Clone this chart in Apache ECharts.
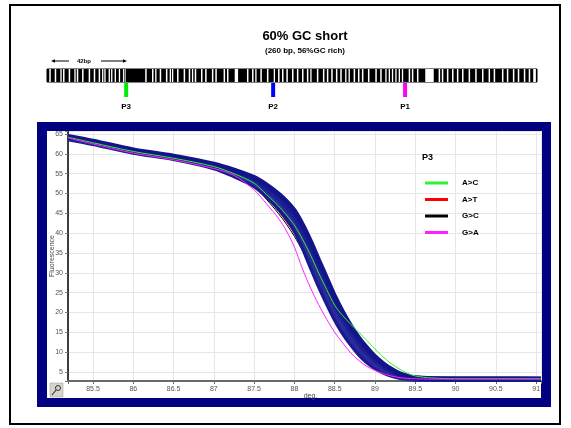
<!DOCTYPE html>
<html><head><meta charset="utf-8">
<script src="https://cdn.jsdelivr.net/npm/echarts@6/dist/echarts.min.js"></script>
<style>html,body{margin:0;padding:0;background:#fff;}#c{width:571px;height:428px;}</style>
</head><body><div id="c"></div>
<script>
// ---- melting-curve data (temperature in deg, fluorescence) ----
const temps = [85.19, 85.5, 86, 86.5, 87, 87.25, 87.5, 87.65, 87.8, 87.9, 88, 88.1, 88.2, 88.3, 88.4, 88.5, 88.6, 88.7, 88.8, 88.9, 89, 89.1, 89.2, 89.3, 89.4, 89.5, 89.7, 90, 90.5, 91.06];
const blueHigh    = [64.4, 63.2, 61.0, 59.4, 57.4, 55.9, 54.0, 52.2, 49.9, 48.0, 45.6, 42.1, 37.9, 33.2, 28.6, 24.0, 20.0, 16.5, 13.5, 11.0, 8.8, 7.1, 5.7, 4.6, 3.95, 3.55, 3.3, 3.25, 3.25, 3.2];
const blueMidHigh = [64.2, 63.0, 60.8, 59.2, 57.1, 55.5, 53.4, 51.3, 48.8, 46.7, 44.1, 40.4, 36.0, 31.2, 26.7, 22.2, 18.4, 15.2, 12.4, 10.0, 8.0, 6.5, 5.3, 4.4, 3.8, 3.5, 3.3, 3.2, 3.2, 3.2];
const blueMidLow  = [64.0, 62.8, 60.6, 59.0, 56.8, 55.0, 52.7, 50.4, 47.6, 45.3, 42.5, 38.5, 33.9, 29.0, 24.5, 20.2, 16.5, 13.4, 10.8, 8.6, 6.9, 5.6, 4.6, 3.9, 3.5, 3.3, 3.2, 3.2, 3.2, 3.2];
const blueLow     = [63.8, 62.6, 60.4, 58.8, 56.5, 54.5, 52.0, 49.5, 46.4, 43.9, 40.9, 36.7, 31.8, 27.0, 22.6, 18.5, 15.0, 12.1, 9.6, 7.6, 6.1, 5.0, 4.2, 3.65, 3.35, 3.2, 3.15, 3.15, 3.15, 3.15];
const curveAC = [64.2, 62.8, 60.6, 58.9, 56.8, 55.0, 52.6, 49.8, 46.9, 44.6, 42.0, 38.5, 34.5, 30.0, 25.8, 21.8, 19.2, 17.0, 15.0, 12.9, 10.8, 8.8, 7.1, 5.8, 4.7, 4.0, 3.5, 3.3, 3.3, 3.3];
const curveAT = [64.1, 62.7, 60.5, 58.8, 56.7, 55.0, 52.2, 49.1, 45.6, 42.9, 39.9, 36.3, 32.5, 28.5, 24.5, 20.6, 17.1, 14.1, 11.4, 9.1, 7.3, 5.9, 4.9, 4.2, 3.7, 3.4, 3.25, 3.2, 3.2, 3.2];
const curveGC = [64.0, 62.6, 60.4, 58.7, 56.6, 54.8, 51.8, 48.6, 45.0, 42.3, 39.2, 35.6, 31.8, 27.8, 23.8, 20.0, 16.6, 13.7, 11.1, 8.9, 7.1, 5.8, 4.8, 4.1, 3.6, 3.35, 3.2, 3.2, 3.2, 3.2];
const curveGA = [64.0, 62.5, 60.2, 58.5, 56.3, 54.6, 50.9, 47.5, 43.8, 40.6, 36.5, 31.0, 26.2, 22.0, 18.3, 15.0, 12.3, 9.8, 7.9, 6.4, 5.4, 4.6, 4.0, 3.6, 3.4, 3.3, 3.2, 3.2, 3.2, 3.2];
const legendNames = ['A>C', 'A>T', 'G>C', 'G>A'];
const legendColors = ['#33ee33', '#ff0000', '#000000', '#ff22ff'];

// ---- sequence map (positions in bp) ----
const seqLength = 260;
const whiteStripes = [[1.2,2.0],[4.1,4.9],[7.1,7.8],[8.5,9.3],[11.5,12.3],[14.5,15.2],[15.8,16.6],[18.6,19.4],[22.1,22.9],[24.8,25.6],[27.4,28.2],[29.2,29.9],[30.4,31.1],[32.7,33.4],[34.0,34.7],[35.9,36.6],[38.1,38.8],[40.3,40.8],[41.2,41.7],
 [52.1,52.9],[55.7,56.5],[57.4,58.1],[59.8,60.6],[63.1,63.9],[65.1,65.8],[66.3,67.0],[69.0,69.8],[72.5,73.3],[75.2,76.0],[76.9,77.6],
 [78.4,79.2],[81.7,82.5],[83.9,84.7],[87.5,88.3],[89.3,90.1],[93.7,94.5],[95.5,96.3],[99.6,101.4],[106.1,106.9],[108.8,109.6],[110.5,111.2],[113.2,114.0],[116.7,117.5],[120.3,121.0],[122.6,123.4],[124.7,125.5],[127.0,127.8],[130.0,130.8],[132.6,133.4],[135.3,136.1],[137.9,138.7],[139.7,140.4],[143.2,144.0],[146.4,147.2],[148.5,149.3],[150.8,151.6],[153.3,154.1],[155.6,156.4],
 [158.2,158.9],[160.0,160.7],[162.7,163.5],[165.0,165.8],[167.1,167.9],[170.3,171.1],[174.2,175.0],[176.8,177.6],[179.5,180.2],[181.3,182.0],[183.0,183.7],[184.8,185.5],[186.6,187.3],[188.3,189.0],[191.9,192.7],[193.6,194.4],[196.3,197.1],[200.7,205.2],[207.8,208.6],[209.5,210.3],[212.2,213.0],[214.9,215.7],[217.5,218.3],[220.2,221.0],[223.7,224.5],[227.2,228.0],[230.8,231.6],[234.3,235.1],[237.0,237.8],
 [241.4,242.2],[244.0,244.8],[247.2,248.0],[249.8,250.6],[253.0,253.8],[255.6,256.4],[258.0,259.4]];
const probeNames = ['P3', 'P2', 'P1'];
const probePos = [42, 120, 190];
const probeColors = ['#00ee00', '#0000ff', '#ff00ff'];

const chart = echarts.init(document.getElementById('c'), null, {renderer: 'canvas'});
const FONT = 'Liberation Sans, Arial, sans-serif';
const pairs = arr => temps.map((t, i) => [t, arr[i]]);
const lineSeries = (name, arr, color, width, z) => ({
  type: 'line', name: name, data: pairs(arr), smooth: 0.3, showSymbol: false, symbol: 'none',
  xAxisIndex: 0, yAxisIndex: 0, lineStyle: {color: color, width: width}, itemStyle: {color: color},
  z: z, silent: true, animation: false
});
const isMult = (v, step) => Math.abs(v / step - Math.round(v / step)) < 1e-6;

function rectItem(fill) {
  return function (params, api) {
    const a = api.coord([api.value(0), 1]);
    const b = api.coord([api.value(1), 0]);
    return {type: 'rect', shape: {x: a[0], y: a[1], width: Math.max(b[0] - a[0], 1), height: b[1] - a[1]},
            style: {fill: fill}};
  };
}

const option = {
  backgroundColor: '#ffffff',
  animation: false,
  title: [
    {text: '60% GC short', left: 300, top: 25, textAlign: 'center',
     textStyle: {fontFamily: FONT, fontSize: 13, fontWeight: 'bold', color: '#000'}},
    {text: '(260 bp, 56%GC rich)', left: 300, top: 42, textAlign: 'center',
     textStyle: {fontFamily: FONT, fontSize: 8, fontWeight: 'bold', color: '#000'}},
    {text: 'P3', left: 417, top: 148,
     textStyle: {fontFamily: FONT, fontSize: 9, fontWeight: 'bold', color: '#000'}}
  ],
  graphic: [
    {type: 'rect', z: -20, shape: {x: 10, y: 5, width: 550, height: 419}, style: {fill: '#fff', stroke: '#000', lineWidth: 2}},
    {type: 'rect', z: -19, shape: {x: 37, y: 122, width: 514, height: 285}, style: {fill: '#000080'}},
    {type: 'rect', z: -18, shape: {x: 47, y: 131, width: 494, height: 267}, style: {fill: '#ffffff'}},
    {type: 'rect', z: 5, shape: {x: 50, y: 383, width: 13, height: 14}, style: {fill: '#d8d4cc', stroke: '#999', lineWidth: 0.5}},
    {type: 'circle', z: 6, shape: {cx: 58, cy: 388, r: 2.5}, style: {fill: 'none', stroke: '#333', lineWidth: 1}},
    {type: 'line', z: 6, shape: {x1: 56, y1: 390, x2: 52, y2: 395}, style: {stroke: '#333', lineWidth: 1.2}},
    // 42bp scale arrow
    {type: 'line', shape: {x1: 53, y1: 61, x2: 69, y2: 61}, style: {stroke: '#000', lineWidth: 1}},
    {type: 'polygon', shape: {points: [[51, 61], [55, 59.3], [55, 62.7]]}, style: {fill: '#000'}},
    {type: 'text', style: {x: 77, y: 61, text: '42bp', fontFamily: FONT, fontSize: 6, fontWeight: 'bold', fill: '#000', verticalAlign: 'middle'}},
    {type: 'line', shape: {x1: 101, y1: 61, x2: 125, y2: 61}, style: {stroke: '#000', lineWidth: 1}},
    {type: 'polygon', shape: {points: [[127, 61], [123, 59.3], [123, 62.7]]}, style: {fill: '#000'}}
  ],
  legend: {
    data: legendNames, orient: 'vertical', left: 420, top: 174, itemWidth: 23, itemHeight: 3, itemGap: 8.5,
    icon: 'rect', textStyle: {fontFamily: FONT, fontSize: 8, fontWeight: 'bold', color: '#000', padding: [0, 0, 0, 9]},
    selectedMode: false
  },
  grid: [
    {left: 68, top: 131, right: 30, bottom: 47, containLabel: false},
    {left: 47, top: 69, width: 490, height: 13},
    {left: 47, top: 83, width: 490, height: 14}
  ],
  xAxis: [
    {type: 'value', gridIndex: 0, min: 85.19, max: 91.06, minInterval: 0.5, maxInterval: 0.5, splitNumber: 12,
     name: 'deg.', nameLocation: 'middle', nameGap: 12, nameMoveOverlap: false,
     nameTextStyle: {fontFamily: FONT, fontSize: 7, color: '#444', padding: [0, 0, 0, 12]},
     axisLine: {show: true, lineStyle: {color: '#6a6a6a', width: 2}},
     axisTick: {show: true, length: 3, lineStyle: {color: '#6a6a6a'}},
     axisLabel: {fontFamily: FONT, fontSize: 7, color: '#555', margin: 5, showMinLabel: true, showMaxLabel: true,
                 formatter: v => isMult(v, 0.5) ? String(v) : ''},
     splitLine: {show: true, lineStyle: {color: '#e6e6e6', width: 1}}},
    {type: 'value', gridIndex: 1, min: 0, max: seqLength, show: false},
    {type: 'value', gridIndex: 2, min: 0, max: seqLength, show: false}
  ],
  yAxis: [
    {type: 'value', gridIndex: 0, min: 2.73, max: 65.76, minInterval: 5, maxInterval: 5, splitNumber: 12,
     name: 'Fluorescence', nameLocation: 'middle', nameGap: 12, nameRotate: 90, nameMoveOverlap: false,
     nameTextStyle: {fontFamily: FONT, fontSize: 7, color: '#444'},
     axisLine: {show: true, lineStyle: {color: '#000', width: 1.5}},
     axisTick: {show: true, length: 3, lineStyle: {color: '#777'}},
     axisLabel: {fontFamily: FONT, fontSize: 7, color: '#555', margin: 5,
                 formatter: v => isMult(v, 5) ? String(v) : ''},
     splitLine: {show: true, lineStyle: {color: '#e6e6e6', width: 1}}},
    {type: 'value', gridIndex: 1, min: 0, max: 1, show: false},
    {type: 'value', gridIndex: 2, min: 0, max: 1, show: false}
  ],
  series: [
    lineSeries('A>T', curveAT, legendColors[1], 1, 3),
    lineSeries('G>C', curveGC, legendColors[2], 1, 3),
    lineSeries('', blueLow, '#1a1a8e', 5, 4),
    lineSeries('', blueMidLow, '#2a2a9c', 5, 4),
    lineSeries('', blueMidHigh, '#1e1e94', 5, 4),
    lineSeries('', blueHigh, '#14148a', 5, 4),
    lineSeries('A>C', curveAC, legendColors[0], 1, 5),
    lineSeries('G>A', curveGA, legendColors[3], 1, 5),
    {type: 'custom', xAxisIndex: 1, yAxisIndex: 1, data: [[0, seqLength]], renderItem: function (params, api) {
        const a = api.coord([api.value(0), 1]);
        const b = api.coord([api.value(1), 0]);
        return {type: 'rect', shape: {x: a[0], y: a[1], width: b[0] - a[0], height: b[1] - a[1]},
                style: {fill: '#000', stroke: '#000', lineWidth: 1}};
      }, silent: true, z: 2},
    {type: 'custom', xAxisIndex: 1, yAxisIndex: 1, data: whiteStripes, renderItem: rectItem('#ffffff'), silent: true, z: 3},
    {type: 'bar', xAxisIndex: 2, yAxisIndex: 2, barWidth: 4, silent: true,
     data: probePos.map((p, i) => ({value: [p, 1], name: probeNames[i], itemStyle: {color: probeColors[i]}})),
     label: {show: true, position: 'bottom', distance: 6, formatter: p => p.name,
             fontFamily: FONT, fontSize: 8, fontWeight: 'bold', color: '#000'}}
  ]
};
chart.setOption(option);
</script></body></html>
